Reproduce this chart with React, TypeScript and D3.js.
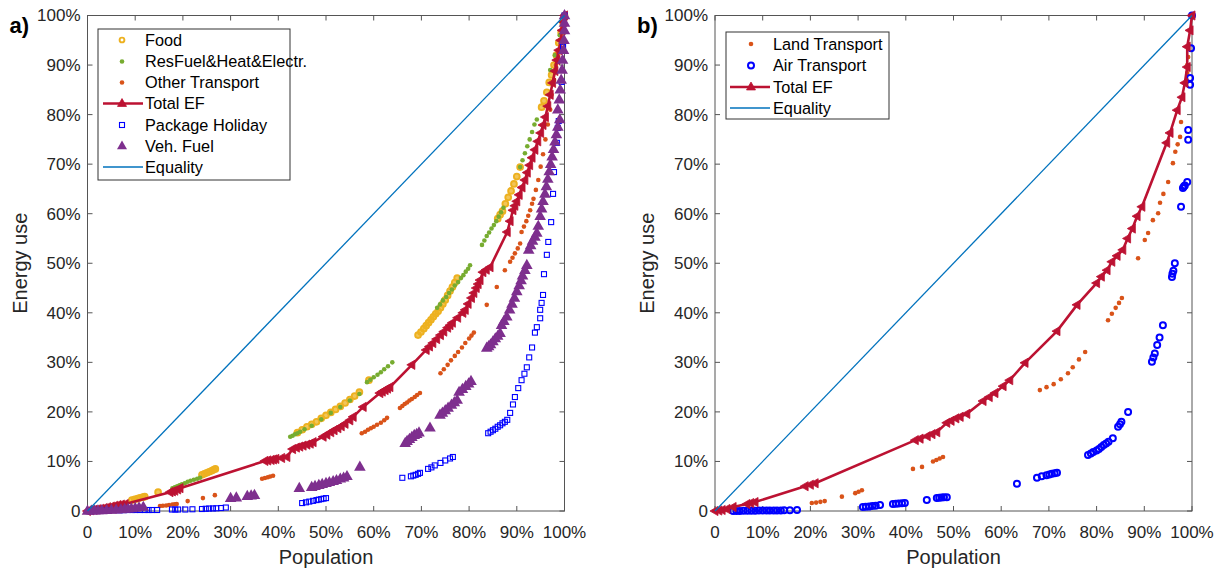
import React from 'react';
import * as d3 from 'd3';

type P = [number, number];

const axisTicks = [0, 10, 20, 30, 40, 50, 60, 70, 80, 90, 100];
const tickLabel = (t: number) => (t === 0 ? '0' : `${t}%`);

// ---------- Panel a ----------
const foodA: P[] = [[0.3,0.05],[1,0.15],[1.8,0.25],[2.6,0.35],[3.4,0.45],[4.2,0.55],[5,0.7],
  [9.3,2.2],[9.9,2.35],[10.5,2.5],[11,2.65],[11.6,2.8],[12,2.9],[14.8,3.8],
  [24,7.3],[24.5,7.5],[25,7.7],[25.5,7.9],[26,8.1],[26.4,8.3],[26.8,8.5],
  [44,15.8],[45,16.4],[46,17],[47,17.5],[48,18],[49,18.7],[50,19.3],[51,19.9],[52,20.5],[53,21.1],[54,21.8],[55,22.5],[56,23.2],[57,24],
  [59,26.4],
  [69.3,35.5],[69.9,36.1],[70.5,36.8],[71,37.4],[71.5,38],[72,38.6],[72.5,39.2],[73,39.8],[73.5,40.3],[74,41],[74.5,41.8],[75,42.6],[75.5,43.5],[76,44.4],[76.5,45.2],[77,46.1],[77.5,47],
  [86,59],[86.5,59.8],[87,60.5],[87.6,62],[88.2,63.3],[88.8,64.6],[89.4,66],[90,67.5],[90.7,69.4],
  [95.2,81.5],[95.7,82.8],[96.3,84.5],[96.8,86.5],[97.3,88],[97.8,90],[98.3,92],[98.8,94.5],[99.3,96.5],[99.7,98.5],[100,100]];
const resFuelA: P[] = [[0.8,0.15],[1.6,0.3],[2.4,0.4],[3.2,0.55],[4,0.65],[4.8,0.8],[5.6,0.95],[6.4,1.1],
  [17.8,4.6],[18.3,4.8],[18.8,5],[19.3,5.2],[19.8,5.4],[20.4,5.6],[21,5.9],[21.6,6.1],[22.3,6.3],[23,6.5],[23.6,6.7],
  [42.5,15],[43,15.2],[43.5,15.5],[44,15.7],[44.6,16],[45.5,16.5],[47,17.2],[49,18.5],[51,19.8],[53,21],[55,22.3],[57,23.6],
  [58.6,26],[59.3,26.5],[60,27],[60.8,27.5],[61.5,28],[62.2,28.6],[63,29.2],[63.9,30],
  [73.3,41],[73.9,41.7],[74.5,42.5],[75.2,43.2],[75.8,44],[76.4,44.7],[77,45.5],[77.7,46.2],[78.3,47],[78.8,47.6],[79.3,48.3],[79.8,48.9],[80.2,49.6],
  [82.7,53.7],[83.2,54.6],[83.7,55.5],[84.2,56.2],[84.7,57],[85.2,57.7],[85.7,58.5],[86.2,59.4],[86.7,60.3],[87.2,61.2],
  [90.7,69.4],[91.2,70.8],[91.7,72.2],[92.2,73.6],[92.7,75],[93.2,76.5],[93.7,78],[94.2,79],
  [97,89],[98,92],[99,96],[100,100]];
const otherTransportA: P[] = [[0.5,0.05],[1.2,0.1],[2,0.15],[3,0.22],[4,0.3],
  [15.2,1],[15.8,1.05],[16.5,1.1],[17.1,1.2],[17.8,1.3],[18.3,1.35],[18.7,1.4],[21,2],[24.2,2.6],[26.7,3.2],
  [36.6,6.5],[37.2,6.65],[37.8,6.8],[38.3,6.95],[38.9,7.1],
  [57.5,15.7],[58.2,16],[58.8,16.4],[59.4,16.7],[60,17],[60.7,17.4],[61.5,17.8],[62.2,18.3],[62.8,18.8],
  [65.5,20.8],[66,21.2],[66.5,21.6],[67,21.9],[67.5,22.3],[68,22.6],[68.6,23],[69.1,23.4],[69.7,23.8],
  [74,27.8],[74.7,28.6],[75.5,29.5],[76.2,30.4],[77,31.3],[77.7,32.1],[78.5,33],[79.2,33.9],[80,34.8],[80.5,35.4],[81,36],
  [83.7,41.6],[85.8,45.2],[87.5,48.6],[88.6,50.3],[89.1,51.1],[89.6,52],[90.2,53],[90.7,54],
  [91,56.3],[91.5,57.4],[92,58.5],[92.4,59.6],[92.8,60.7],[93.2,62],[93.5,63],[94,64.8],[94.5,66.8],[95,69.5],[95.5,72],[96,75],[96.5,78],[97,81],[97.3,84],[97.8,87],[98.2,90],[98.6,92.5],[99,95],[99.5,97.5],[100,100]];
const totalA: P[] = [[0,0],[0.7,0.15],[1.4,0.25],[2.1,0.35],[2.8,0.45],[3.5,0.6],[4.2,0.75],[5,0.9],[5.7,1.05],[6.4,1.2],[7.1,1.3],[7.9,1.4],
  [17.3,3.8],[17.8,3.95],[18.3,4.1],[18.9,4.35],[19.4,4.6],
  [37.2,10.1],[37.8,10.2],[38.5,10.3],[39,10.4],[39.5,10.5],[40.7,10.7],[41.8,10.9],
  [43,12.5],[43.8,12.8],[44.5,13],[45.2,13.2],[46,13.4],[46.7,13.6],[47.3,13.9],
  [49.4,15],[50.2,15.4],[51,15.9],[51.7,16.3],[52.5,16.7],[53.2,17.1],[54,17.6],[55,18.3],[55.7,19],[57.8,21],
  [61.3,23.8],[61.8,24.1],[62.4,24.4],[62.9,24.7],[63.4,25],[68,29.5],[71,32.5],[71.7,33.2],[72.4,33.9],[73.2,34.7],[74,35.5],[74.7,36.2],[75.5,37],[76,37.5],[76.5,38],[77.6,39],[78.7,40],[79.2,40.6],[79.8,41.8],[80.5,43],[81,44],[81.5,45],[81.9,45.8],[82.3,46.6],[82.9,48.2],[83.6,48.7],[84.4,49.2],
  [88,56.3],[88.6,58.5],[89.2,60.7],[89.6,61.6],[90,62.5],[90.5,63.8],[91.1,65.3],[91.7,66.8],[92.2,68.3],[92.7,69.8],[93.2,71.3],[93.8,72.9],[94.4,74.6],[95,76.3],[95.5,77.9],[96,79.5],[96.5,81.7],[97,84],[97.5,86.4],[98,88.8],[98.4,91],[98.8,93],[99.2,95],[99.5,97],[99.8,98.7],[100,100]];
const packageHolidayA: P[] = [[0.5,0],[2,0.05],[4,0.1],[6.8,0.15],[7.7,0.18],[8.5,0.2],[9.3,0.2],[10,0.2],[11,0.2],[12,0.2],[12.8,0.2],[13.5,0.2],[14.6,0.2],[17.7,0.3],[18.4,0.3],[19,0.3],[20.5,0.3],[22,0.35],[24,0.4],[24.8,0.45],[25.5,0.5],[26.3,0.52],[27,0.55],[28,0.6],[29,0.7],
  [45,1.6],[45.8,1.75],[46.5,1.9],[47.3,2.05],[48,2.2],[48.5,2.3],[49,2.4],[49.5,2.5],[50,2.6],
  [66,6.7],[67.8,7],[68.3,7.15],[68.8,7.3],[69.3,7.5],[69.7,7.7],[71.4,8.5],[72.1,8.8],[72.8,9.2],[74,9.7],[75,10.2],[76,10.6],[76.6,10.9],
  [84,15.7],[84.5,16],[85,16.3],[85.5,16.6],[86,17],[86.5,17.3],[87,17.7],[87.5,18],[88,18.4],[88.6,19.8],[89.2,21.5],[89.6,23],[90.3,24.8],[91,26.4],[91.6,27.7],[92.1,29],[92.6,31],[93.2,33],[93.8,36],[94.2,37.1],[94.9,38.9],[94.9,40.6],[95.2,42],[95.5,43.6],[95.7,47.8],[96.3,51.7],[96.6,54.3],[97.2,58.3],[97.6,64],[97.8,68.4],[98.4,74.3],[98.6,77.3],[98.8,78.7],[99.4,86.6],[99.7,93.7],[100,100]];
const vehFuelA: P[] = [[0,0],[0.8,0.03],[1.5,0.05],[2.2,0.08],[3,0.1],[4,0.15],[5,0.2],[6,0.25],[7,0.3],[7.8,0.4],[8.5,0.45],[9.2,0.5],[10,0.6],[10.8,0.7],[11.7,0.8],
  [30,2.6],[31.2,2.7],[33.5,3],[34.3,3.1],[35,3.2],
  [44.4,4.6],[47,4.8],[47.7,5],[48.5,5.2],[49.2,5.4],[50,5.6],[50.7,5.8],[51.5,6],[52.2,6.2],[53,6.5],[53.7,6.7],[54.4,7],[57.1,8.9],
  [66.6,13.7],[67,14.1],[67.5,14.5],[68,14.9],[68.5,15.3],[69,15.5],[69.5,15.8],[71.8,16.8],
  [73.9,19.4],[74.4,19.8],[75,20.3],[75.6,20.8],[76.3,21.4],[76.9,21.9],[77.5,22.4],[77.9,24],[78.6,24.6],[79.3,25.2],[79.9,25.7],[80.4,26.2],
  [83.7,32.9],[84.1,33.2],[84.5,33.6],[85,34.2],[85.5,34.8],[86,35.3],[86.5,35.9],[86.8,37.5],[87.3,38.3],[87.9,39.2],[88.5,40.6],[89,41.8],[89.5,43],[90,44.3],[90.5,45.5],[90.9,46.5],[91.2,47.5],[91.7,48.6],[92.1,49.6],
  [92.5,52.7],[92.9,53.6],[93.3,54.5],[93.8,55.3],[94.2,56.1],[94.5,57.5],[94.9,59.5],[95.2,61],[95.5,62.5],[95.9,64],[96.2,65.5],[96.5,67],[96.8,68.5],[97.1,70],[97.4,71.5],[97.7,73],[98,74.5],[98.3,76],[98.6,77.5],[99,79],
  [98.6,81],[98.9,83],[99.1,85],[99.3,87],[99.5,89],[99.6,91],[99.8,93],[99.9,95],[100,97],[100,98.5],[100,100]];

// ---------- Panel b ----------
const landTransportB: P[] = [[0.5,0.05],[1.5,0.1],[2.5,0.2],[20.3,1.6],[21.2,1.7],[22.1,1.85],[23,2],[26.6,2.9],[29.4,3.6],[30.1,3.9],[30.8,4.2],[41.5,8.5],[43.4,8.9],[45.7,10],[46.4,10.3],[47.1,10.6],[47.8,10.9],[68.1,24.4],[69.5,25],[71,25.6],[72.5,26.6],[74,27.8],[75,29],[76.3,30.6],[77.6,32.1],[82.4,38.5],[83.2,39.8],[84,41],[84.7,42],[85.3,43],[88.7,51],[90.1,54.7],[90.8,56.1],[91.8,58.7],[92.9,60.1],[93.3,62.2],[94,64],[95,66.4],[96,70.2],[96.5,72.5],[97,74],[97.5,75.5],[97.7,78.5],[99,88.4],[99,90],[99.2,91.6],[100,100]];
const airTransportB: P[] = [[3.8,0],[4.5,0],[5.2,0],[6,0.05],[6.8,0.05],[7.6,0.05],[8.4,0.05],[9.2,0.1],[10,0.1],[10.8,0.1],[11.5,0.1],[12.3,0.1],[13,0.1],[13.8,0.12],[14.5,0.15],[15.7,0.15],[17.2,0.2],[31,0.8],[31.6,0.85],[32.3,0.9],[33,1],[33.7,1.05],[34.6,1.2],[37.3,1.4],[37.9,1.45],[38.5,1.5],[39.2,1.55],[39.8,1.6],[44.4,2.2],[46.5,2.6],[47,2.65],[47.5,2.7],[48,2.75],[48.6,2.8],[63.3,5.5],[67.5,6.7],[68.5,7],[69.5,7.2],[70.1,7.35],[70.6,7.5],[71.2,7.6],[71.7,7.7],[78.2,11.3],[78.8,11.6],[79.3,11.9],[80,12.2],[80.5,12.5],[81,12.9],[81.5,13.3],[82,13.6],[82.5,14],[83.4,14.7],[84.5,17],[84.9,17.5],[85.2,18],[86.6,20],[91.6,30.1],[91.9,31],[92.2,31.8],[92.7,33.5],[93.2,35],[93.9,37.5],[95.8,47.2],[95.9,47.9],[96.1,48.5],[96.4,50],[97.7,61.4],[98.1,65.2],[98.3,65.5],[98.5,65.7],[99,66.4],[99.2,74.9],[99.2,76.9],[99.6,86],[99.6,87.4],[99.8,93.4],[100,100]];
const totalB: P[] = [[0,0],[0.8,0.1],[1.5,0.2],[2.5,0.4],[3.8,0.8],[6.7,1.4],[7.5,1.6],[8.4,1.8],[18.9,5],[20,5.3],[21,5.6],[42,14.3],[43,14.6],[44.5,15.1],[45.5,15.5],[46.5,15.9],[48.6,17.8],[49.5,18.2],[50.5,18.7],[51.4,19],[52.8,19.6],[56.2,22.2],[57.5,23],[58.7,23.8],[60.4,25.2],[61.8,26.4],[65,29.9],[71.7,36.3],[75.9,41.6],[80,46],[81,47.3],[82.2,48.6],[83.2,50.3],[84.3,51.5],[85.5,52.7],[86.5,55],[87.5,57],[88.5,59.5],[89.5,61.4],[94.7,74.3],[95.4,76.3],[96.9,80.9],[97.9,83.5],[98.5,86.4],[99,89.6],[99,93.7],[99.6,97],[100,100]];
const equality: P[] = [[0,0],[100,100]];

const C = {
  food: '#EDB120',
  res: '#77AC30',
  orange: '#D95319',
  total: '#BC1232',
  blue: '#0000FF',
  veh: '#7E2F8E',
  eq: '#0072BD',
  axis: '#555555',
  text: '#262626',
};

type Kind = 'ring' | 'dot' | 'square' | 'triUp' | 'total' | 'line' | 'airRing';
interface Series { name: string; data: P[]; kind: Kind; color: string; }

const seriesA: Series[] = [
  { name: 'Food', data: foodA, kind: 'ring', color: C.food },
  { name: 'ResFuel&Heat&Electr.', data: resFuelA, kind: 'dot', color: C.res },
  { name: 'Other Transport', data: otherTransportA, kind: 'dot', color: C.orange },
  { name: 'Total EF', data: totalA, kind: 'total', color: C.total },
  { name: 'Package Holiday', data: packageHolidayA, kind: 'square', color: C.blue },
  { name: 'Veh. Fuel', data: vehFuelA, kind: 'triUp', color: C.veh },
  { name: 'Equality', data: equality, kind: 'line', color: C.eq },
];
const seriesB: Series[] = [
  { name: 'Land Transport', data: landTransportB, kind: 'dot', color: C.orange },
  { name: 'Air Transport', data: airTransportB, kind: 'airRing', color: C.blue },
  { name: 'Total EF', data: totalB, kind: 'total', color: C.total },
  { name: 'Equality', data: equality, kind: 'line', color: C.eq },
];

const triUpPath = (h: number) => `M0,${-h * 1.1}L${h},${h * 0.65}L${-h},${h * 0.65}Z`;
const triLeftPath = (h: number) => `M${-h * 1.1},0L${h * 0.65},${-h}L${h * 0.65},${h}Z`;

function Marker({ kind, color, x, y, legend }: { kind: Kind; color: string; x: number; y: number; legend?: boolean }) {
  switch (kind) {
    case 'ring':
      return <circle cx={x} cy={y} r={legend ? 2.4 : 2.9} fill={legend ? 'none' : color} fillOpacity={0.75} stroke={color} strokeWidth={1.9} />;
    case 'dot':
      return <circle cx={x} cy={y} r={2.3} fill={color} />;
    case 'square':
      return <rect x={x - 2.5} y={y - 2.5} width={5} height={5} fill="none" stroke={color} strokeWidth={1.1} />;
    case 'triUp':
      return <path transform={`translate(${x},${y})`} d={triUpPath(legend ? 5 : 5.8)} fill={color} />;
    case 'total':
      return <path transform={`translate(${x},${y})`} d={legend ? triUpPath(4.5) : triLeftPath(4.6)} fill={color} stroke={color} strokeWidth={0.8} />;
    case 'airRing':
      return <circle cx={x} cy={y} r={3} fill="none" stroke={color} strokeWidth={2} />;
    default:
      return null;
  }
}

interface PanelProps {
  x0: number; x1: number; y0: number; y1: number;
  series: Series[];
  tag: string;
  legend: { x: number; y: number; w: number; h: number; rowY: number[]; markerX: number; textX: number; lineX0: number; lineX1: number };
}

function Panel({ x0, x1, y0, y1, series, tag, legend }: PanelProps) {
  const xs = d3.scaleLinear().domain([0, 100]).range([x0, x1]);
  const ys = d3.scaleLinear().domain([0, 100]).range([y0, y1]);
  const line = d3.line<P>().x((d) => xs(d[0])).y((d) => ys(d[1]));
  const tl = 5;
  return (
    <g>
      <rect x={x0} y={y1} width={x1 - x0} height={y0 - y1} fill="none" stroke={C.axis} strokeWidth={1} />
      {axisTicks.map((t) => (
        <g key={'t' + t}>
          <line x1={xs(t)} x2={xs(t)} y1={y0} y2={y0 - tl} stroke={C.axis} />
          <line x1={xs(t)} x2={xs(t)} y1={y1} y2={y1 + tl} stroke={C.axis} />
          <line x1={x0} x2={x0 + tl} y1={ys(t)} y2={ys(t)} stroke={C.axis} />
          <line x1={x1} x2={x1 - tl} y1={ys(t)} y2={ys(t)} stroke={C.axis} />
          <text x={xs(t)} y={537.5} textAnchor="middle" fontSize={17} fill={C.text}>{tickLabel(t)}</text>
          <text x={x0 - 7} y={ys(t)} dy="0.35em" textAnchor="end" fontSize={17} fill={C.text}>{tickLabel(t)}</text>
        </g>
      ))}
      <text x={(x0 + x1) / 2} y={564} textAnchor="middle" fontSize={20} fill={C.text}>Population</text>
      <text transform={`translate(${x0 - 61},${(y0 + y1) / 2}) rotate(-90)`} textAnchor="middle" fontSize={20} fill={C.text}>Energy use</text>
      <text x={x0 - 78} y={33} fontSize={22} fontWeight="bold" fill="#000">{tag}</text>

      {series.map((s, i) => {
        if (s.kind === 'line') {
          return <path key={i} d={line(s.data) || ''} fill="none" stroke={s.color} strokeWidth={1.3} />;
        }
        return (
          <g key={i}>
            {s.kind === 'total' && <path d={line(s.data) || ''} fill="none" stroke={s.color} strokeWidth={2.6} />}
            {s.data.map((d, j) => (
              <Marker key={j} kind={s.kind} color={s.color} x={xs(d[0])} y={ys(d[1])} />
            ))}
          </g>
        );
      })}

      <rect x={legend.x} y={legend.y} width={legend.w} height={legend.h} fill="#fff" stroke="#333" strokeWidth={1} />
      {series.map((s, i) => {
        const y = legend.rowY[i];
        return (
          <g key={'l' + i}>
            {(s.kind === 'line' || s.kind === 'total') && (
              <line x1={legend.lineX0} x2={legend.lineX1} y1={y} y2={y} stroke={s.color} strokeWidth={s.kind === 'total' ? 2.6 : 1.3} />
            )}
            {s.kind !== 'line' && <Marker kind={s.kind} color={s.color} x={legend.markerX} y={y} legend />}
            <text x={legend.textX} y={y} dy="0.36em" fontSize={16.3} fill="#000">{s.name}</text>
          </g>
        );
      })}
    </g>
  );
}

export default function App() {
  return (
    <svg width={1220} height={572} style={{ position: 'absolute', left: 0, top: 0, background: '#fff' }}
      fontFamily="'Liberation Sans', Arial, sans-serif">
      <rect x={0} y={0} width={1220} height={572} fill="#fff" />
      <Panel x0={87.5} x1={564.5} y0={511} y1={15.5} series={seriesA} tag="a)"
        legend={{ x: 98, y: 29, w: 192, h: 151, rowY: [40, 61.5, 82.5, 103.5, 125, 146, 167], markerX: 122, textX: 145, lineX0: 103, lineX1: 143 }} />
      <Panel x0={715} x1={1192} y0={511} y1={15.5} series={seriesB} tag="b)"
        legend={{ x: 726, y: 32, w: 163, h: 87, rowY: [44, 65.5, 87, 108], markerX: 751, textX: 773, lineX0: 730, lineX1: 770 }} />
    </svg>
  );
}
